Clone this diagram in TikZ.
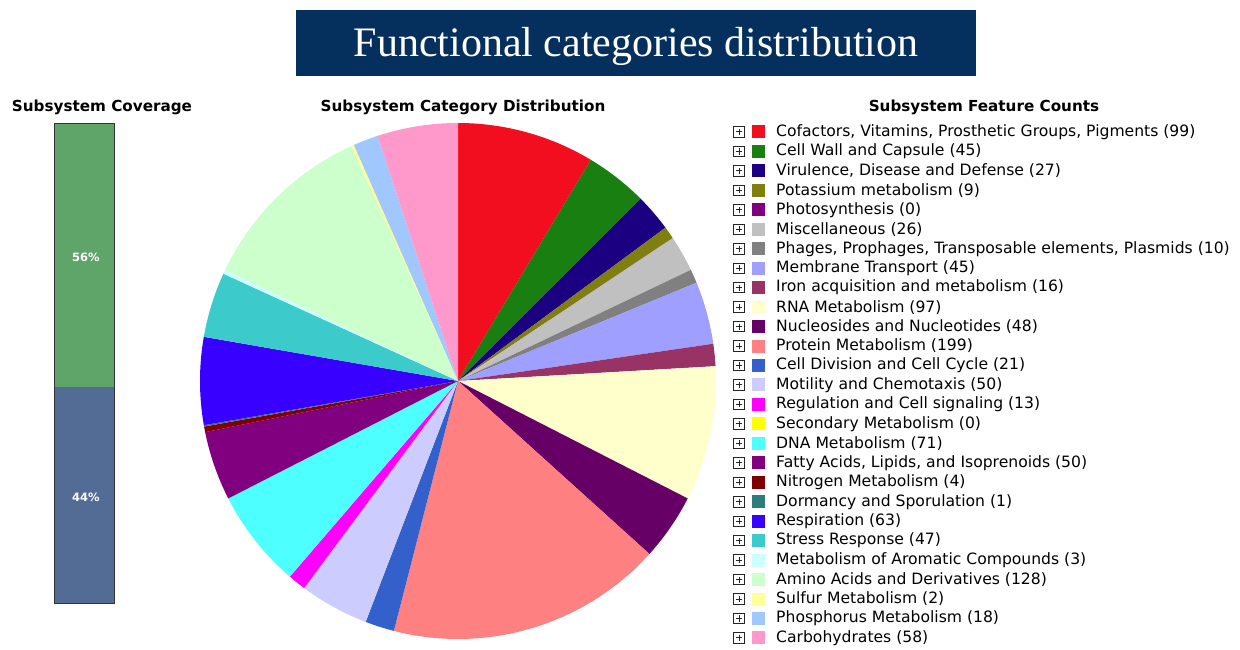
\documentclass[tikz,border=0pt]{standalone}
\usepackage{fontspec}
\usepackage{tikz}
\newfontfamily\verd{DejaVu Sans}
\newfontfamily\timesf{Liberation Serif}

% slice and legend colours
\definecolor{cofac}{HTML}{F20D1F}
\definecolor{cellwall}{HTML}{187F10}
\definecolor{virul}{HTML}{1B0082}
\definecolor{potass}{HTML}{7F7F10}
\definecolor{photo}{HTML}{800080}
\definecolor{misc}{HTML}{C0C0C0}
\definecolor{phage}{HTML}{808080}
\definecolor{membr}{HTML}{9F9FFF}
\definecolor{iron}{HTML}{993366}
\definecolor{rna}{HTML}{FFFFCC}
\definecolor{nucl}{HTML}{660066}
\definecolor{protein}{HTML}{FF8080}
\definecolor{celldiv}{HTML}{3460CC}
\definecolor{motil}{HTML}{CCCCFF}
\definecolor{regul}{HTML}{FF00FF}
\definecolor{second}{HTML}{FFFF00}
\definecolor{dna}{HTML}{4DFFFF}
\definecolor{fatty}{HTML}{800080}
\definecolor{nitro}{HTML}{800000}
\definecolor{dorm}{HTML}{2E7D7D}
\definecolor{resp}{HTML}{3800FF}
\definecolor{stress}{HTML}{3DCACA}
\definecolor{arom}{HTML}{CCFFFF}
\definecolor{amino}{HTML}{CCFFCC}
\definecolor{sulfur}{HTML}{FFFF99}
\definecolor{phos}{HTML}{A0C8FF}
\definecolor{carbo}{HTML}{FF99CC}
\definecolor{navy}{HTML}{052F5C}
\definecolor{covtop}{HTML}{5FA468}
\definecolor{covbot}{HTML}{536C95}

\tikzset{
  header/.style={font=\verd\bfseries\fontsize{15.2}{17}\selectfont},
  plusbox/.style={draw=black!85, line width=0.9pt, minimum size=10.5pt, inner sep=0pt,
    path picture={\draw[line width=1pt]
      ([xshift=2.2pt]path picture bounding box.west) -- ([xshift=-2.2pt]path picture bounding box.east)
      ([yshift=-2.2pt]path picture bounding box.north) -- ([yshift=2.2pt]path picture bounding box.south);}},
  swatch/.style={minimum size=13pt, inner sep=0pt},
  legtext/.style={anchor=west, inner sep=0pt, font=\verd\fontsize{15.6}{17}\selectfont},
  pct/.style={text=white, font=\verd\bfseries\fontsize{11.5}{13}\selectfont}
}

\begin{document}
\begin{tikzpicture}[x=1pt, y=1pt]
\useasboundingbox (0,0) rectangle (1240,-650);

% title banner
\node[fill=navy, minimum width=680pt, minimum height=66pt, inner sep=0pt] (banner) at (636,-43) {};
\node[text=white, font=\timesf\fontsize{42}{46}\selectfont] (title) at (636,-46) {Functional categories distribution};

% headers
\node[header] (hcov) at (102,-107) {Subsystem Coverage};
\node[header] (hpie) at (463,-107) {Subsystem Category Distribution};
\node[header] (hleg) at (984,-107) {Subsystem Feature Counts};

% coverage bar
\fill[covtop] (54,-123) rectangle (114,-387);
\fill[covbot] (54,-387) rectangle (114,-603);
\draw[black!80, line width=0.8pt] (54,-123) rectangle (114,-603);
\node[pct] (pcttop) at (86,-257) {56\%};
\node[pct] (pctbot) at (86,-497) {44\%};

% pie, clockwise from the top
\coordinate (pie) at (458,-381);
\def\pieacc{0}
\foreach \n/\c in {99/cofac,45/cellwall,27/virul,9/potass,0/photo,26/misc,10/phage,45/membr,16/iron,97/rna,48/nucl,199/protein,21/celldiv,50/motil,13/regul,0/second,71/dna,50/fatty,4/nitro,1/dorm,63/resp,47/stress,3/arom,128/amino,2/sulfur,18/phos,58/carbo}{
  \pgfmathsetmacro\sa{90-\pieacc/1150*360}
  \pgfmathsetmacro\ea{90-(\pieacc+\n)/1150*360}
  \fill[\c] (pie) -- ++(\sa:258) arc[start angle=\sa, end angle=\ea, radius=258] -- cycle;
  \pgfmathsetmacro\nxt{\pieacc+\n}
  \global\let\pieacc\nxt
}

% legend
\foreach \c/\t [count=\i from 0] in {
  cofac/{Cofactors, Vitamins, Prosthetic Groups, Pigments (99)},
  cellwall/{Cell Wall and Capsule (45)},
  virul/{Virulence, Disease and Defense (27)},
  potass/{Potassium metabolism (9)},
  photo/{Photosynthesis (0)},
  misc/{Miscellaneous (26)},
  phage/{Phages, Prophages, Transposable elements, Plasmids (10)},
  membr/{Membrane Transport (45)},
  iron/{Iron acquisition and metabolism (16)},
  rna/{RNA Metabolism (97)},
  nucl/{Nucleosides and Nucleotides (48)},
  protein/{Protein Metabolism (199)},
  celldiv/{Cell Division and Cell Cycle (21)},
  motil/{Motility and Chemotaxis (50)},
  regul/{Regulation and Cell signaling (13)},
  second/{Secondary Metabolism (0)},
  dna/{DNA Metabolism (71)},
  fatty/{Fatty Acids, Lipids, and Isoprenoids (50)},
  nitro/{Nitrogen Metabolism (4)},
  dorm/{Dormancy and Sporulation (1)},
  resp/{Respiration (63)},
  stress/{Stress Response (47)},
  arom/{Metabolism of Aromatic Compounds (3)},
  amino/{Amino Acids and Derivatives (128)},
  sulfur/{Sulfur Metabolism (2)},
  phos/{Phosphorus Metabolism (18)},
  carbo/{Carbohydrates (58)}}{
  \pgfmathsetmacro\ly{-132-\i*19.46}
  \node[plusbox] (key\i) at (739,\ly) {};
  \node[swatch, fill=\c] (sw\i) at (758.5,\ly) {};
  \node[legtext] (lab\i) at (776,\ly) {\t};
}
\end{tikzpicture}
\end{document}
